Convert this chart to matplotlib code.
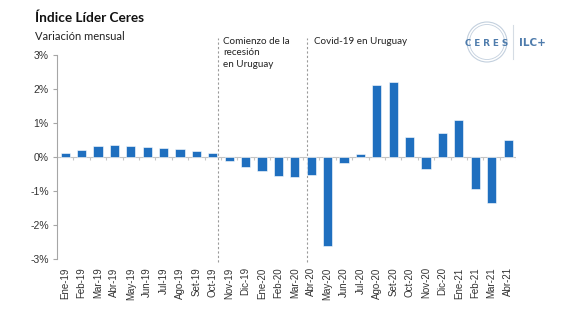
import numpy as np
import matplotlib.pyplot as plt
from matplotlib.patches import Circle
from matplotlib.lines import Line2D

# Monthly change of the Ceres leading index (%)
meses = ["Ene-19", "Feb-19", "Mar-19", "Abr-19", "May-19", "Jun-19", "Jul-19",
         "Ago-19", "Set-19", "Oct-19", "Nov-19", "Dic-19", "Ene-20", "Feb-20",
         "Mar-20", "Abr-20", "May-20", "Jun-20", "Jul-20", "Ago-20", "Set-20",
         "Oct-20", "Nov-20", "Dic-20", "Ene-21", "Feb-21", "Mar-21", "Abr-21"]
variacion = [0.12, 0.21, 0.32, 0.35, 0.32, 0.29, 0.27, 0.24, 0.18, 0.12,
             -0.10, -0.28, -0.42, -0.56, -0.57, -0.53, -2.62, -0.16, 0.10,
             2.12, 2.21, 0.59, -0.35, 0.71, 1.11, -0.94, -1.35, 0.51]

# event markers (position between months) and their labels
eventos_x = [9.3, 14.75]
eventos_txt = ["Comienzo de la\nrecesión\nen Uruguay", "Covid-19 en Uruguay"]

yticks = [-3, -2, -1, 0, 1, 2, 3]

azul = "#1F6FBF"
gris = "#A6A6A6"

fig = plt.figure(figsize=(5.78, 3.26), dpi=100)
ax = fig.add_axes([0.0986, 0.2055, 0.7945, 0.6245])

x = np.arange(len(meses))
ax.bar(x, variacion, width=0.55, color=azul, edgecolor="white", linewidth=0.4, zorder=3)

ax.set_xlim(-0.5, len(meses) - 0.5)
ax.set_ylim(-3, 3)
ax.set_yticks(yticks)
ax.set_yticklabels([f"{v}%" for v in yticks], fontsize=7.5, color="#333333",
                   family="Liberation Sans")
ax.tick_params(axis="y", length=3, color=gris, pad=3)

ax.set_xticks(x)
ax.set_xticklabels(meses, rotation=90, fontsize=7, color="#333333",
                   family="Liberation Sans")
ax.tick_params(axis="x", length=0, pad=6)

for s in ["top", "right", "bottom"]:
    ax.spines[s].set_visible(False)
ax.spines["left"].set_color(gris)
ax.spines["left"].set_linewidth(0.8)

# zero line with small ticks between months
ax.axhline(0, color="#C4C4C4", linewidth=0.8, zorder=2)
bordes = np.arange(len(meses) + 1) - 0.5
ax.vlines(bordes[1:], -0.07, 0, colors="#C4C4C4", linewidth=0.8, zorder=2)

# dashed event lines, running above the plot area
for ex in eventos_x:
    ax.vlines(ex, -3.1, 3.5, colors="#9A9A9A", linestyles=(0, (2, 2)),
              linewidth=0.8, clip_on=False, zorder=2)
ax.text(eventos_x[0] + 0.35, 3.55, eventos_txt[0], fontsize=7.1, va="top", ha="left",
        color="#222222", family="Lato", linespacing=1.35)
ax.text(eventos_x[1] + 0.45, 3.55, eventos_txt[1], fontsize=7.1, va="top", ha="left",
        color="#222222", family="Lato")

# title and subtitle
fig.text(35 / 578, 1 - 18 / 326, "Índice Líder Ceres", fontsize=9.8, fontweight="bold",
         va="center", ha="left", color="#111111", family="Lato")
fig.text(35 / 578, 1 - 36 / 326, "Variación mensual", fontsize=8, va="center",
         ha="left", color="#222222", family="Lato")

# logo
w, h = fig.get_size_inches() * fig.dpi
cx, cy = 487 / w, 1 - 43 / h
for r, lw in [(20, 0.8), (17.5, 0.6)]:
    fig.patches.append(Circle((487, h - 42), r, transform=None, fill=False,
                              edgecolor="#C3D0DE", linewidth=lw))
fig.text(cx, cy, "C E R E S", fontsize=6.3, fontweight="bold", color="#4F7CAC",
         ha="center", va="center", family="DejaVu Sans")
fig.lines.append(Line2D([513 / w, 513 / w], [1 - 25 / h, 1 - 59 / h],
                        transform=fig.transFigure, color="#D5DCE4", linewidth=0.8))
fig.text(519 / w, cy, "ILC+", fontsize=7.5, fontweight="bold", color="#4F7CAC",
         ha="left", va="center", family="DejaVu Sans")

fig.savefig("out.png", dpi=100)
